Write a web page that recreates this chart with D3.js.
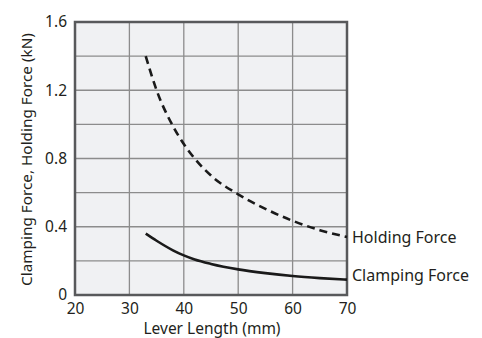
<!DOCTYPE html>
<html>
<head>
<meta charset="utf-8">
<script src="https://cdn.jsdelivr.net/npm/d3@7"></script>
<style>
  html, body { margin: 0; padding: 0; background: #fff; }
  svg { display: block; font-family: "Noto Sans", "Open Sans", sans-serif; }
</style>
</head>
<body>
<svg id="chart" width="482" height="338"></svg>
<script>
// Lever length (mm) sample points
const leverLength = [33, 35, 38, 40, 42, 45, 50, 55, 60, 65, 70];
// Holding force (kN)
const holdingForce = [1.40, 1.20, 0.99, 0.885, 0.80, 0.70, 0.59, 0.505, 0.435, 0.38, 0.34];
// Clamping force (kN)
const clampingForce = [0.36, 0.318, 0.262, 0.232, 0.208, 0.182, 0.150, 0.128, 0.111, 0.099, 0.090];

const xTicks = [20, 30, 40, 50, 60, 70];
const yTicks = [0, 0.4, 0.8, 1.2, 1.6];
const yGrid = [0.2, 0.4, 0.6, 0.8, 1.0, 1.2, 1.4];

const seriesNames = ["Holding Force", "Clamping Force"];

const margin = { left: 75, top: 22, right: 135, bottom: 43 };
const W = 482, H = 338;
const iw = W - margin.left - margin.right;
const ih = H - margin.top - margin.bottom;

const svg = d3.select("#chart");
const g = svg.append("g").attr("transform", `translate(${margin.left},${margin.top})`);

const x = d3.scaleLinear().domain([20, 70]).range([0, iw]);
const y = d3.scaleLinear().domain([0, 1.6]).range([ih, 0]);

// plot background
g.append("rect").attr("width", iw).attr("height", ih).attr("fill", "#f0f1f3");

// grid
g.append("g").selectAll("line").data(xTicks.slice(1, -1)).join("line")
  .attr("x1", d => x(d)).attr("x2", d => x(d))
  .attr("y1", 0).attr("y2", ih)
  .attr("stroke", "#8c8c8c").attr("stroke-width", 1.3);
g.append("g").selectAll("line").data(yGrid).join("line")
  .attr("y1", d => y(d)).attr("y2", d => y(d))
  .attr("x1", 0).attr("x2", iw)
  .attr("stroke", "#8c8c8c").attr("stroke-width", 1.3);

// frame
g.append("rect").attr("width", iw).attr("height", ih)
  .attr("fill", "none").attr("stroke", "#58595b").attr("stroke-width", 2.5);

// axes (labels only)
const xAxis = d3.axisBottom(x).tickValues(xTicks).tickSize(0).tickPadding(8).tickFormat(d3.format("d"));
const yAxis = d3.axisLeft(y).tickValues(yTicks).tickSize(0).tickPadding(8).tickFormat(d => d === 0 ? "0" : d3.format(".1f")(d));

const gx = g.append("g").attr("transform", `translate(0,${ih})`).call(xAxis);
const gy = g.append("g").call(yAxis);
[gx, gy].forEach(a => {
  a.select(".domain").remove();
  a.selectAll("text").attr("fill", "#231f20").style("font-size", "15.5px")
    .style("font-family", "'Noto Sans', sans-serif");
});

// curves
const line = d3.line().x((d, i) => x(leverLength[i])).y(d => y(d)).curve(d3.curveMonotoneX);

g.append("path").datum(holdingForce)
  .attr("d", line).attr("fill", "none")
  .attr("stroke", "#1a1a1a").attr("stroke-width", 2.6)
  .attr("stroke-dasharray", "8,5");

g.append("path").datum(clampingForce)
  .attr("d", line).attr("fill", "none")
  .attr("stroke", "#1a1a1a").attr("stroke-width", 2.6);

// series labels at the line ends
const ends = [holdingForce[holdingForce.length - 1], clampingForce[clampingForce.length - 1]];
const labelOffset = [0, -4];
g.append("g").selectAll("text").data(seriesNames).join("text")
  .attr("x", x(70) + 5)
  .attr("y", (d, i) => y(ends[i]) + labelOffset[i])
  .attr("dy", "0.35em")
  .attr("fill", "#231f20")
  .style("font-size", "16px")
  .text(d => d);

// axis titles
svg.append("text")
  .attr("x", margin.left + iw / 2 + 1).attr("y", 334)
  .attr("text-anchor", "middle").attr("fill", "#231f20")
  .style("font-size", "15.5px")
  .text("Lever Length (mm)");

svg.append("text")
  .attr("transform", `translate(32,${margin.top + ih / 2 + 1}) rotate(-90)`)
  .attr("text-anchor", "middle").attr("fill", "#231f20")
  .style("font-size", "15.3px")
  .text("Clamping Force, Holding Force (kN)");
</script>
</body>
</html>
